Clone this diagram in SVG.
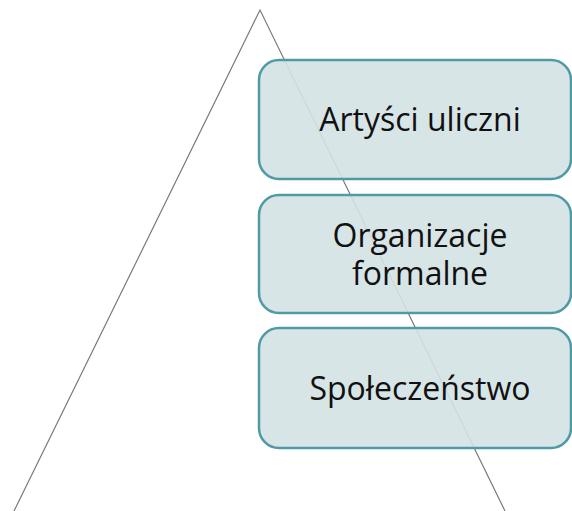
<svg xmlns="http://www.w3.org/2000/svg" width="572" height="511" viewBox="0 0 572 511">
<style>
.box{fill:#d3e2e4;fill-opacity:0.9;stroke:#4f9aa6;stroke-width:2.5}
.lbl{font-family:"Open Sans","Liberation Sans",sans-serif;font-size:32px;fill:#111;text-anchor:middle}
.edge{fill:none;stroke:#7a7a7a;stroke-width:1.2}
</style>
<rect width="572" height="511" fill="#ffffff"/>
<g id="connectors">
<polyline class="edge" points="14,511 260,10 505,511"/>
</g>
<g id="node1">
<rect class="box" x="259" y="60" width="312" height="119" rx="20"/>
<text class="lbl" x="420" y="131">Artyści uliczni</text>
</g>
<g id="node2">
<rect class="box" x="259" y="195" width="312" height="118" rx="20"/>
<text class="lbl" x="420" y="247">Organizacje</text>
<text class="lbl" x="420" y="285">formalne</text>
</g>
<g id="node3">
<rect class="box" x="259" y="328" width="312" height="120" rx="20"/>
<text class="lbl" x="420" y="400">Społeczeństwo</text>
</g>
</svg>
